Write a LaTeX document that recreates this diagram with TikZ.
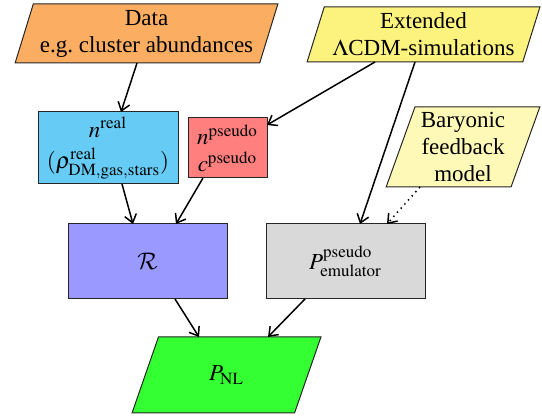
\documentclass[tikz,border=0pt]{standalone}
\usepackage{mathptmx}
\DeclareMathAlphabet{\mathcal}{OMS}{cmsy}{m}{n}
\usepackage[no-math]{fontspec}
\setmainfont{Liberation Serif}
\usetikzlibrary{shapes.geometric,arrows.meta,calc}
\definecolor{dataorange}{HTML}{FBAD62}
\definecolor{extyellow}{HTML}{FCF27E}
\definecolor{baryellow}{HTML}{FFF9B8}
\definecolor{realblue}{HTML}{66CCF5}
\definecolor{pseudored}{HTML}{FF7F7F}
\definecolor{rviolet}{HTML}{9999FF}
\definecolor{emgrey}{HTML}{D9D9D9}
\definecolor{nlgreen}{HTML}{33FF33}
\begin{document}
\begin{tikzpicture}[x=0.5pt,y=-0.5pt,
  box/.style={draw=black!85, line width=0.5pt, rectangle, inner sep=0pt, outer sep=0pt,
    align=center, font=\fontsize{11.5}{13.5}\selectfont},
  para/.style={box, trapezium, trapezium left angle=70, trapezium right angle=110,
    trapezium stretches=true},
  arr/.style={-{Straight Barb[length=4pt,width=6pt]}, line width=0.75pt},
  dotarr/.style={arr, dotted}]
\useasboundingbox (0,0) rectangle (542,416);

\node[para, fill=dataorange, minimum width=131.5pt, minimum height=29.5pt] (data) at (146.5,33.5)
  {Data\\e.g.\ cluster abundances};
\node[para, fill=extyellow, minimum width=116.5pt, minimum height=27.5pt] (ext) at (423.5,34.5)
  {Extended\\$\Lambda$CDM-simulations};
\node[para, fill=baryellow, minimum width=77pt, minimum height=40pt] (bary) at (463,147)
  {Baryonic\\feedback\\model};
\node[box, fill=realblue, minimum width=70pt, minimum height=36pt] (nreal) at (108,148)
  {$n^{\rm real}$\\[2pt]$(\rho^{\rm real}_{\rm DM,gas,stars})$};
\node[box, fill=pseudored, minimum width=39.5pt, minimum height=30pt] (npseudo) at (227.5,148)
  {$n^{\rm pseudo}$\\$c^{\rm pseudo}$};
\node[box, fill=rviolet, minimum width=79.5pt, minimum height=37.5pt] (R) at (147.5,261.5)
  {$\mathcal{R}$};
\node[box, fill=emgrey, minimum width=79.5pt, minimum height=37.5pt] (pem) at (345.5,261.5)
  {$P^{\rm pseudo}_{\rm emulator}$};
\node[para, fill=nlgreen, minimum width=94.5pt, minimum height=38pt] (pnl) at (226.5,375)
  {$P_{\rm NL}$};

\draw[arr] ($(data.south)+(-9.5,0)$) -- ($(nreal.north)+(13,0)$);
\draw[arr] ($(ext.south)+(-48.5,0)$) -- ($(npseudo.north east)+(0,7)$);
\draw[arr] ($(ext.south)+(-8.5,0)$) -- ($(pem.north)+(14.5,0)$);
\draw[dotarr] ($(bary.south)+(-43,0)$) -- ($(pem.north)+(41.5,0)$);
\draw[arr] ($(nreal.south)+(14,0)$) -- ($(R.north)+(-14.5,0)$);
\draw[arr] ($(npseudo.south)+(-24.5,0)$) -- ($(R.north)+(28.5,0)$);
\draw[arr] ($(R.south)+(27.5,0)$) -- ($(pnl.north)+(-27.5,0)$);
\draw[arr] ($(pem.south)+(-40.5,0)$) -- ($(pnl.north)+(41.5,0)$);
\end{tikzpicture}
\end{document}
